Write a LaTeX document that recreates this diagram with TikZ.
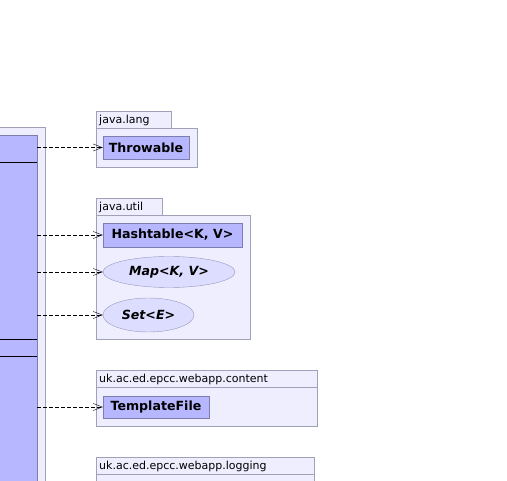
\documentclass[tikz,border=0pt]{standalone}
\usepackage{fontspec}
\setmainfont{DejaVu Sans}
\usepackage{tikz}
\usetikzlibrary{arrows.meta, positioning, shapes.geometric}

\definecolor{pkgfill}{RGB}{238,238,255}
\definecolor{clsfill}{RGB}{183,183,255}
\definecolor{ifcfill}{RGB}{221,221,255}
\definecolor{pkgline}{RGB}{160,160,185}
\definecolor{clsline}{RGB}{125,125,175}

\begin{document}
\begin{tikzpicture}[
        x=1pt, y=-1pt,
        every node/.style={font=\fontsize{11}{13}\selectfont, inner sep=0pt},
        pkgtab/.style={
            rectangle, draw=pkgline, fill=pkgfill, anchor=south west,
            minimum height=17pt, text depth=0pt, align=left,
            inner xsep=3pt
        },
        pkgbody/.style={
            rectangle, draw=pkgline, fill=pkgfill, anchor=north west
        },
        cls/.style={
            rectangle, draw=clsline, fill=clsfill, font=\fontsize{12.6}{15}\selectfont\bfseries
        },
        ifc/.style={
            ellipse, draw=clsline!80, fill=ifcfill, font=\fontsize{12.6}{15}\selectfont\bfseries\itshape
        },
        dep/.style={-{Straight Barb[length=9pt, width=7pt]}, thin, dash pattern=on 4pt off 2pt}
        ]

    \useasboundingbox (0,0) rectangle (507,481);
    \clip (0,0) rectangle (507,481);

    % --- package on the left, cut off by the page ---
        \node[pkgbody, minimum width=60pt, minimum height=370pt] (leftpkg) at (-15,127) {};
        \node[cls, anchor=north west, minimum width=52pt, minimum height=360pt] (mainclass) at (-15,135) {};

        \draw (mainclass.west |- 0,162) -- (mainclass.east |- 0,162);
        \draw (mainclass.west |- 0,339) -- (mainclass.east |- 0,339);
        \draw (mainclass.west |- 0,356) -- (mainclass.east |- 0,356);

    % --- java.lang ---
        \node[pkgtab, minimum width=75pt, text width=69pt] (langtab) at (96,128) {java.lang};
        \node[pkgbody, minimum width=101pt, minimum height=39pt] (langpkg) at (96,128) {};
        \node[cls, minimum width=86pt, minimum height=23pt] (throwable) at (146,147.5) {Throwable};

    % --- java.util ---
        \node[pkgtab, minimum width=66pt, text width=60pt] (utiltab) at (96,215) {java.util};
        \node[pkgbody, minimum width=154pt, minimum height=124pt] (utilpkg) at (96,215) {};
        \node[cls, minimum width=139pt, minimum height=24pt] (hashtable) at (172.5,235) {Hashtable<K, V>};
        \node[ifc, minimum width=132pt, minimum height=31pt] (map) at (169,272) {Map<K, V>};
        \node[ifc, minimum width=91pt, minimum height=34pt] (set) at (148.5,315) {Set<E>};

    % --- uk.ac.ed.epcc.webapp.content ---
        \node[pkgtab, minimum width=221pt, text width=215pt] (contenttab) at (96,387) {uk.ac.ed.epcc.webapp.content};
        \node[pkgbody, minimum width=221pt, minimum height=39pt] (contentpkg) at (96,387) {};
        \node[cls, minimum width=106pt, minimum height=22pt] (templatefile) at (156,407) {TemplateFile};

    % --- uk.ac.ed.epcc.webapp.logging ---
        \node[pkgtab, minimum width=218pt, text width=212pt] (loggingtab) at (96,474) {uk.ac.ed.epcc.webapp.logging};
        \node[pkgbody, minimum width=218pt, minimum height=30pt] (loggingpkg) at (96,474) {};

    % --- dependencies ---
        \draw[dep] (mainclass.east |- throwable.west) -- (throwable.west);
        \draw[dep] (mainclass.east |- hashtable.west) -- (hashtable.west);
        \draw[dep] (mainclass.east |- map.west) -- (map.west);
        \draw[dep] (mainclass.east |- set.west) -- (set.west);
        \draw[dep] (mainclass.east |- templatefile.west) -- (templatefile.west);

    \end{tikzpicture}
\end{document}
